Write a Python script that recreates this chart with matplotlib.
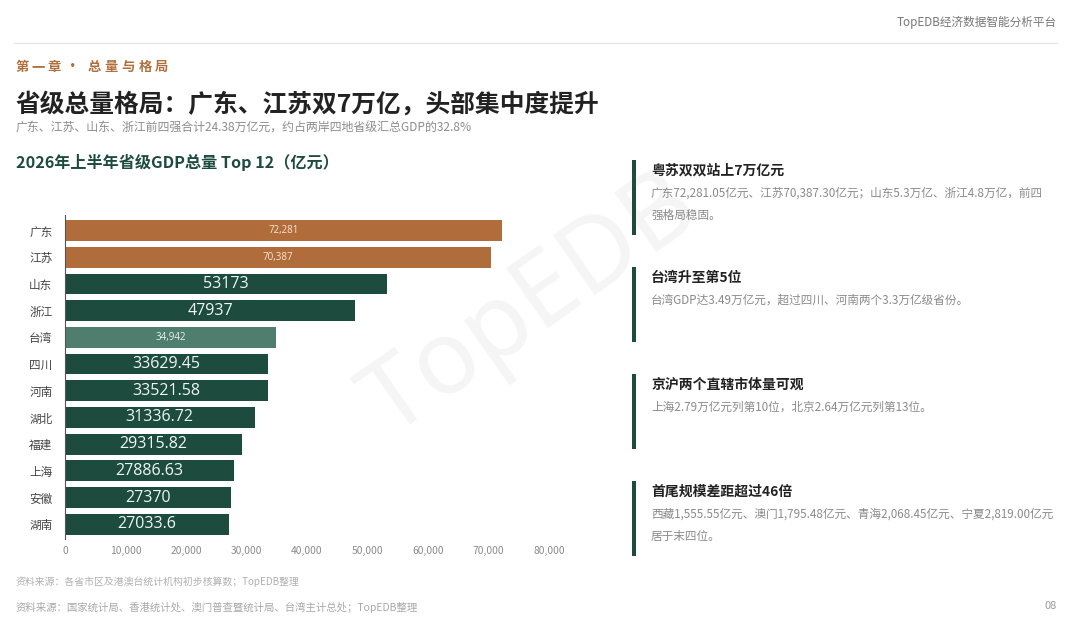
import numpy as np
import matplotlib
matplotlib.use("Agg")
import matplotlib.pyplot as plt
from matplotlib.ticker import FuncFormatter

plt.rcParams["font.family"] = ["Noto Sans CJK SC", "DejaVu Sans"]

# ---------- data ----------
provinces = ["广东", "江苏", "山东", "浙江", "台湾", "四川",
             "河南", "湖北", "福建", "上海", "安徽", "湖南"]
gdp = [72281.05, 70387.30, 53173, 47937, 34942, 33629.45,
       33521.58, 31336.72, 29315.82, 27886.63, 27370, 27033.6]
bar_labels = ["72,281", "70,387", "53173", "47937", "34,942", "33629.45",
              "33521.58", "31336.72", "29315.82", "27886.63", "27370", "27033.6"]
groups = ["top", "top", "main", "main", "tw", "main",
          "main", "main", "main", "main", "main", "main"]
x_ticks = [0, 10000, 20000, 30000, 40000, 50000, 60000, 70000, 80000]

card_titles = ["粤苏双双站上7万亿元", "台湾升至第5位",
               "京沪两个直辖市体量可观", "首尾规模差距超过46倍"]
card_bodies = [
    ["广东72,281.05亿元、江苏70,387.30亿元；山东5.3万亿、浙江4.8万亿，前四", "强格局稳固。"],
    ["台湾GDP达3.49万亿元，超过四川、河南两个3.3万亿级省份。"],
    ["上海2.79万亿元列第10位，北京2.64万亿元列第13位。"],
    ["西藏1,555.55亿元、澳门1,795.48亿元、青海2,068.45亿元、宁夏2,819.00亿元", "居于末四位。"],
]

# ---------- style ----------
W, H = 1080, 623
col_top = "#B06D3B"
col_main = "#1D4B3E"
col_tw = "#4F7D6E"
col_brown_txt = "#B0703C"
col_dark = "#222222"
col_muted = "#8a8a8a"
bar_colors = {"top": col_top, "main": col_main, "tw": col_tw}


def fx(x):
    return x / W


def fy(y):
    return 1 - y / H


def spaced_text(x0, yy, s, step, **kw):
    # draw characters one by one to get letter spacing
    for k, ch in enumerate(s):
        fig.text(fx(x0 + k * step), fy(yy), ch, ha="left", va="center", **kw)


fig = plt.figure(figsize=(W / 100, H / 100), dpi=100)
fig.patch.set_facecolor("white")

# watermark
fig.text(fx(532), fy(306), "TopEDB", fontsize=74, color="#f5f5f5",
         rotation=35, ha="center", va="center", fontweight="light",
         family=["Noto Sans", "DejaVu Sans"], zorder=0)

# header
fig.text(fx(1057), fy(22), "TopEDB经济数据智能分析平台", fontsize=8.4,
         color="#777777", ha="right", va="center")
fig.add_artist(plt.Line2D([fx(14), fx(1057)], [fy(43), fy(43)],
                          color="#e6e6e6", linewidth=0.9))

# chapter tag
chap_kw = dict(fontsize=9.6, fontweight="bold", color=col_brown_txt)
spaced_text(16, 67, "第一章", 15.5, **chap_kw)
fig.text(fx(73), fy(67), "·", ha="center", va="center", **chap_kw)
spaced_text(88, 67, "总量与格局", 16.8, **chap_kw)

fig.text(fx(16), fy(104), "省级总量格局：广东、江苏双7万亿，头部集中度提升",
         fontsize=17.8, fontweight="bold", color=col_dark, ha="left", va="center")
fig.text(fx(16), fy(128),
         "广东、江苏、山东、浙江前四强合计24.38万亿元，约占两岸四地省级汇总GDP的32.8%",
         fontsize=8.6, color="#8c8c8c", ha="left", va="center")
fig.text(fx(16), fy(163), "2026年上半年省级GDP总量 Top 12（亿元）",
         fontsize=11.6, fontweight="bold", color=col_main, ha="left", va="center")

# ---------- bar chart ----------
ax_l, ax_r, ax_t, ax_b = 65, 549, 214.5, 539
ax = fig.add_axes([fx(ax_l), fy(ax_b), fx(ax_r - ax_l), (ax_b - ax_t) / H])
ax.set_facecolor("none")

y = np.arange(len(provinces))
cols = [bar_colors[g] for g in groups]
ax.barh(y, gdp, height=0.78, color=cols, zorder=2)

ax.set_ylim(len(provinces) - 0.45, -0.6)
ax.set_xlim(0, 80000)
ax.set_yticks(y)
ax.set_yticklabels(provinces, fontsize=8.4, color="#444444")
ax.set_xticks(x_ticks)
ax.xaxis.set_major_formatter(FuncFormatter(lambda v, _p: f"{int(v):,}"))
ax.tick_params(axis="x", length=0, labelsize=7.4, labelcolor=col_muted, pad=5)
ax.tick_params(axis="y", length=0, pad=9)
for s in ("top", "right", "bottom"):
    ax.spines[s].set_visible(False)
ax.spines["left"].set_color("#555555")
ax.spines["left"].set_linewidth(0.8)

for i, (v, lab, g) in enumerate(zip(gdp, bar_labels, groups)):
    if g == "main":
        ax.text(v / 2, i, lab, ha="center", va="center", fontsize=11.5,
                color="#eef7f2", family=["Open Sans", "DejaVu Sans"], zorder=3)
    else:
        tc = "#f6e6d4" if g == "top" else "#e8f3ee"
        ax.text(v / 2, i, lab, ha="center", va="center", fontsize=7,
                color=tc, family=["Open Sans", "DejaVu Sans"], zorder=3)

# ---------- right cards ----------
card_tops = [160, 267, 374, 481]
for top, title, body in zip(card_tops, card_titles, card_bodies):
    fig.add_artist(plt.Rectangle((fx(632), fy(top + 75)), fx(4), 75 / H,
                                 color=col_main, linewidth=0))
    fig.text(fx(651), fy(top + 11), title, fontsize=10, fontweight="bold",
             color=col_dark, ha="left", va="center")
    for k, line in enumerate(body):
        fig.text(fx(651), fy(top + 33 + 22.5 * k), line, fontsize=8.4,
                 color=col_muted, ha="left", va="center")

# ---------- footer ----------
fig.text(fx(16), fy(582), "资料来源：各省市区及港澳台统计机构初步核算数；TopEDB整理",
         fontsize=7.1, color="#b0b0b0", ha="left", va="center")
fig.text(fx(16), fy(607), "资料来源：国家统计局、香港统计处、澳门普查暨统计局、台湾主计总处；TopEDB整理",
         fontsize=7.5, color="#a8a8a8", ha="left", va="center")
fig.text(fx(1057), fy(606), "08", fontsize=8, color="#999999",
         ha="right", va="center")

fig.savefig("out.png", dpi=100, facecolor="white")
